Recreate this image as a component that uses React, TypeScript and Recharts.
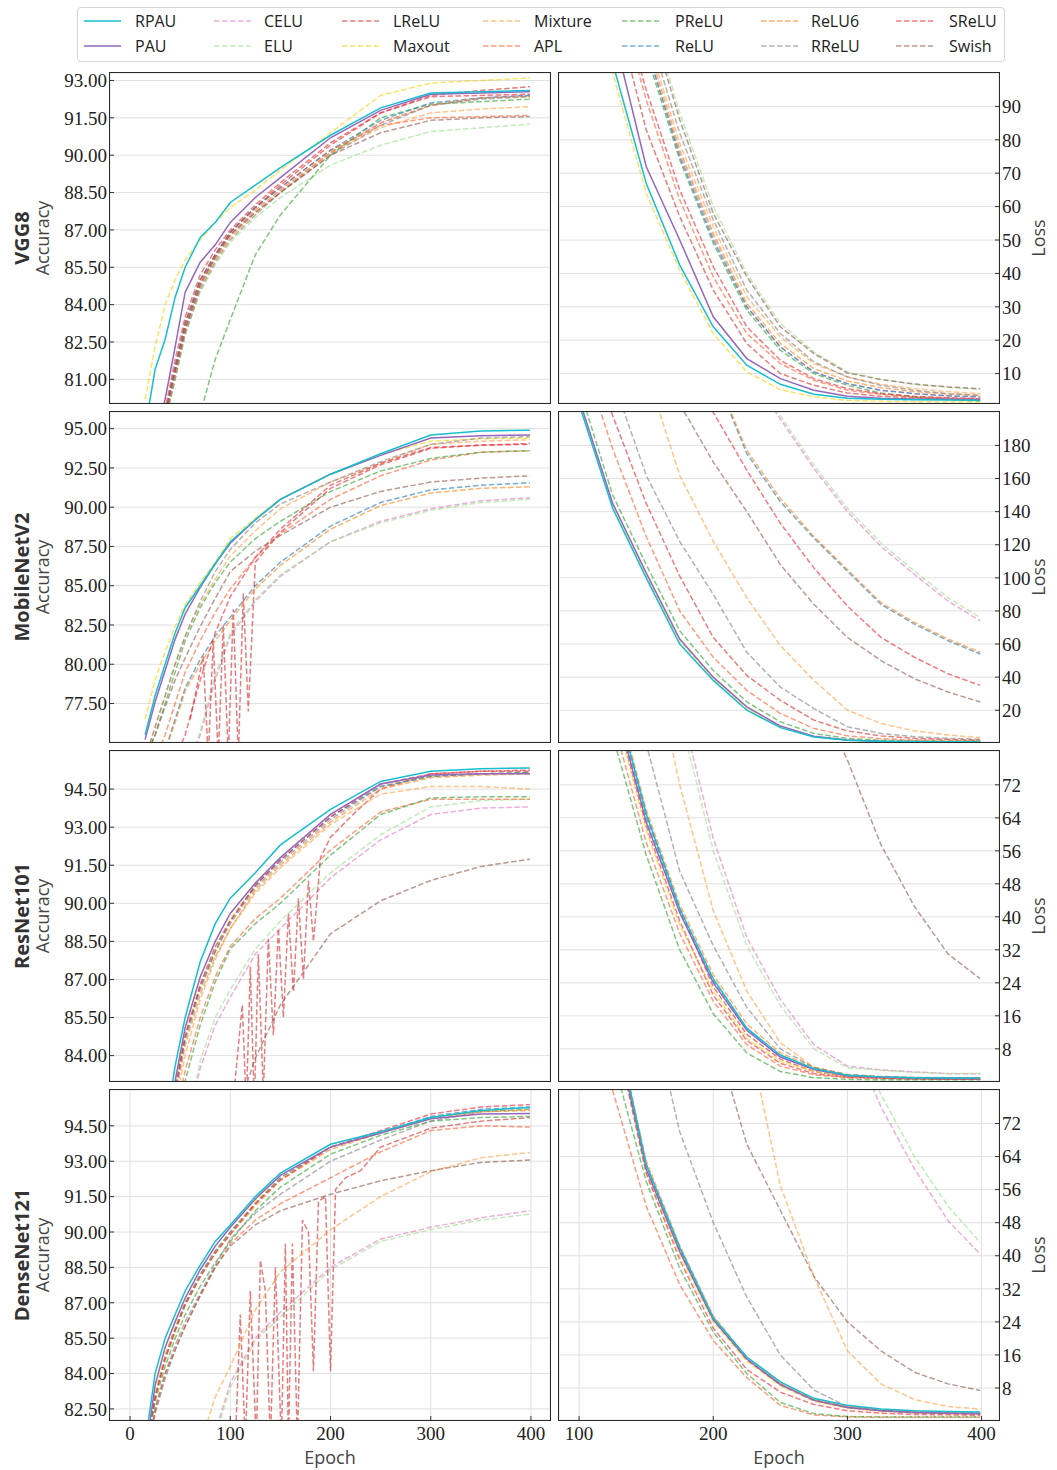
import React from 'react';
import { LineChart, Line, XAxis, YAxis, CartesianGrid } from 'recharts';

// ---- series & epochs ----
const SERIES = ['RPAU', 'PAU', 'CELU', 'ELU', 'LReLU', 'Maxout', 'Mixture', 'APL', 'PReLU', 'ReLU', 'ReLU6', 'RReLU', 'SReLU', 'Swish'];
const ROW_NAMES = ['VGG8', 'MobileNetV2', 'ResNet101', 'DenseNet121'];

const ACC_EPOCHS = [15, 25, 35, 45, 55, 70, 85, 100, 125, 150, 200, 250, 300, 350, 399];
const LOSS_EPOCHS = [100, 125, 150, 175, 200, 225, 250, 275, 300, 325, 350, 375, 399];

// ---- VGG8 ----
const VGG_ACC: Record<string, number[]> = {
  RPAU: [79.0, 81.4, 82.6, 84.3, 85.5, 86.7, 87.3, 88.1, 88.8, 89.5, 90.8, 91.9, 92.5, 92.55, 92.6],
  PAU: [78.0, 78.5, 80.2, 82.3, 84.5, 85.7, 86.4, 87.3, 88.3, 89.1, 90.7, 91.8, 92.45, 92.5, 92.55],
  CELU: [78, 78.5, 79.5, 81.3, 83.0, 84.8, 85.9, 86.8, 87.8, 88.6, 90.1, 91.3, 92.0, 92.3, 92.4],
  ELU: [78, 78.5, 79.3, 81.0, 82.8, 84.5, 85.6, 86.5, 87.5, 88.3, 89.6, 90.4, 90.95, 91.1, 91.25],
  LReLU: [78, 78.5, 79.5, 81.5, 83.3, 85.0, 86.0, 86.9, 87.9, 88.8, 90.4, 91.7, 92.4, 92.6, 92.75],
  Maxout: [80.2, 82.3, 84.0, 85.0, 85.8, 86.6, 87.3, 87.9, 88.6, 89.4, 90.9, 92.4, 92.9, 93.0, 93.1],
  Mixture: [78, 78.5, 79.5, 81.2, 83.0, 84.8, 85.9, 86.8, 87.8, 88.6, 90.1, 91.1, 91.7, 91.85, 91.95],
  APL: [78, 78.5, 79.6, 81.4, 83.1, 84.9, 86.0, 86.9, 87.9, 88.7, 90.2, 91.2, 91.5, 91.55, 91.6],
  PReLU: [76, 76.5, 77, 77.5, 78.5, 79.6, 81.8, 83.4, 86.0, 87.6, 90.0, 91.5, 92.05, 92.15, 92.25],
  ReLU: [78, 78.5, 79.6, 81.5, 83.2, 85.0, 86.0, 86.9, 87.9, 88.7, 90.2, 91.4, 92.1, 92.3, 92.4],
  ReLU6: [78, 78.5, 79.4, 81.2, 83.0, 84.7, 85.8, 86.7, 87.7, 88.5, 90.1, 91.3, 92.0, 92.3, 92.35],
  RReLU: [78, 78.5, 79.3, 81.0, 82.8, 84.6, 85.7, 86.6, 87.6, 88.5, 90.0, 91.2, 92.0, 92.25, 92.35],
  SReLU: [78, 78.5, 79.8, 81.8, 83.5, 85.2, 86.2, 87.0, 88.0, 88.9, 90.5, 91.7, 92.35, 92.4, 92.45],
  Swish: [78, 78.5, 79.5, 81.3, 83.0, 84.8, 85.9, 86.8, 87.7, 88.5, 90.0, 90.9, 91.4, 91.5, 91.55],
};
const VGG_LOSS: Record<string, number[]> = {
  RPAU: [150, 103, 67, 42.5, 24, 12.5, 6.8, 3.8, 2.6, 2.3, 2.2, 2.1, 2.0],
  PAU: [160, 113, 72, 50, 27, 14.5, 8.5, 5, 3.2, 2.6, 2.4, 2.3, 2.2],
  CELU: [200, 150, 108, 76, 51, 30, 18, 10.5, 7, 5, 4, 3.4, 3.0],
  ELU: [220, 165, 122, 88, 60, 40, 25, 16.5, 10.5, 8.3, 6.8, 5.9, 5.3],
  LReLU: [170, 122, 83, 57, 35, 19, 10, 6.5, 4.2, 3.2, 2.8, 2.5, 2.3],
  Maxout: [148, 100, 64, 41, 22, 10.5, 5.2, 3.0, 2.0, 1.7, 1.6, 1.5, 1.5],
  Mixture: [210, 155, 112, 79, 54, 33, 21, 13, 9, 6.8, 5.5, 4.6, 4.0],
  APL: [178, 128, 92, 62, 39, 22, 13, 8, 5, 3.8, 3.0, 2.6, 2.3],
  PReLU: [200, 148, 106, 74, 49, 29, 17, 10, 6.5, 4.2, 3, 2.2, 1.8],
  ReLU: [200, 150, 108, 75, 50, 30, 18, 10.5, 7, 5, 4, 3.3, 3.0],
  ReLU6: [205, 152, 110, 77, 52, 31, 19, 11.5, 7.8, 5.8, 4.6, 3.9, 3.5],
  RReLU: [210, 158, 115, 82, 56, 35, 22, 13.5, 9, 6.5, 5, 4, 3.5],
  SReLU: [180, 130, 95, 65, 42, 24, 14, 8.5, 5.5, 4.0, 3.2, 2.8, 2.5],
  Swish: [215, 162, 120, 86, 58, 39, 24, 16, 10.2, 8.2, 6.9, 6, 5.5],
};

// ---- MobileNetV2 ----
const MOB_ACC: Record<string, number[]> = {
  RPAU: [75.5, 78.0, 80.0, 82.0, 83.6, 85.0, 86.4, 87.8, 89.2, 90.5, 92.1, 93.4, 94.6, 94.85, 94.9],
  PAU: [75.2, 77.6, 79.6, 81.6, 83.2, 84.9, 86.4, 87.7, 89.2, 90.5, 92.1, 93.3, 94.4, 94.55, 94.6],
  CELU: [70, 70, 71, 72, 73, 75.5, 79.0, 81.8, 84.0, 85.6, 87.8, 89.1, 89.9, 90.4, 90.6],
  ELU: [70, 70, 71, 72, 73, 75.7, 79.3, 82.0, 84.1, 85.7, 87.8, 89.0, 89.8, 90.3, 90.5],
  LReLU: [72, 72, 73, 74, 75.5, 78.5, 81.5, 84.0, 86.5, 88.4, 91.2, 92.7, 93.75, 93.95, 94.05],
  Maxout: [76.5, 79.0, 80.8, 82.4, 83.8, 85.2, 86.5, 88.0, 89.3, 90.5, 92.1, 93.35, 94.2, 94.35, 94.4],
  Mixture: [74, 76, 78, 80, 81.8, 83.8, 85.4, 86.9, 88.5, 89.9, 91.6, 92.8, 94.0, 94.2, 94.3],
  APL: [72, 74, 75.5, 77.5, 79.5, 81.5, 83.3, 84.8, 86.8, 88.3, 90.5, 92.0, 93.0, 93.5, 93.6],
  PReLU: [74, 75.5, 77.5, 79.5, 81.5, 83.6, 85.2, 86.5, 88.0, 89.1, 91.0, 92.3, 93.1, 93.5, 93.6],
  ReLU: [72, 73, 74.5, 76.5, 78.5, 80.3, 81.8, 83.0, 85.0, 86.5, 88.8, 90.3, 91.1, 91.4, 91.55],
  ReLU6: [72, 73, 74.5, 76.3, 78.3, 80.0, 81.5, 82.8, 84.8, 86.3, 88.6, 90.1, 90.9, 91.2, 91.3],
  RReLU: [74, 76, 78, 80, 81.8, 84.0, 85.9, 87.3, 89.0, 90.2, 91.6, 92.9, 94.0, 94.4, 94.5],
  SReLU: [72, 72, 73, 74, 75.5, 79.0, 82.0, 84.3, 86.8, 88.6, 91.4, 92.8, 93.8, 93.95, 94.0],
  Swish: [74, 75.5, 77.3, 79.0, 80.4, 82.4, 84.2, 85.9, 87.2, 88.2, 90.0, 91.0, 91.6, 91.85, 92.0],
};
const MOB_LRELU_EPOCHS = [60, 73, 78, 83, 88, 93, 98, 103, 108, 113, 118, 125, 150, 200, 250, 300, 350, 399];
const MOB_LRELU_ACC = [76.5, 80.5, 74, 81.5, 74, 82.5, 74, 83.5, 74, 84.5, 77, 86.5, 88.4, 91.2, 92.7, 93.75, 93.95, 94.05];
const MOB_LOSS: Record<string, number[]> = {
  RPAU: [205, 142, 100, 60, 38, 20, 9.5, 3.8, 1.8, 1.2, 1.0, 0.9, 0.9],
  PAU: [208, 145, 103, 63, 40, 22, 10.5, 4.3, 2, 1.3, 1.1, 1.0, 1.0],
  CELU: [450, 400, 350, 300, 260, 225, 196, 166, 140, 119, 102, 86, 74],
  ELU: [450, 400, 350, 300, 262, 226, 198, 168, 142, 121, 104, 88, 76],
  LReLU: [260, 198, 145, 101, 64, 41, 26, 14, 7.5, 4.5, 3, 2.4, 2.0],
  Maxout: [206, 143, 101, 62, 39, 21, 10, 4, 1.9, 1.3, 1.1, 1.0, 1.0],
  Mixture: [320, 270, 225, 162, 122, 88, 59, 38, 20, 12, 7.5, 5, 3.5],
  APL: [240, 178, 125, 80, 52, 32, 18, 9, 4.5, 2.8, 2.0, 1.7, 1.5],
  PReLU: [215, 150, 108, 68, 44, 25, 13, 6, 3, 1.8, 1.4, 1.2, 1.2],
  ReLU: [380, 340, 300, 260, 225, 175, 146, 124, 104, 84, 72, 62, 54],
  ReLU6: [380, 340, 300, 262, 226, 177, 148, 125, 105, 85, 73, 63, 55],
  RReLU: [280, 220, 162, 122, 90, 55, 34, 21, 10, 6, 4, 3, 2.5],
  SReLU: [350, 310, 270, 235, 200, 165, 133, 106, 83, 64, 52, 42, 35],
  Swish: [320, 280, 240, 205, 170, 140, 108, 84, 64, 50, 39, 31, 25],
};

// ---- ResNet101 ----
const RES_ACC: Record<string, number[]> = {
  RPAU: [80, 80, 81, 83.6, 85.5, 87.7, 89.2, 90.2, 91.2, 92.3, 93.7, 94.8, 95.2, 95.3, 95.33],
  PAU: [80, 80, 80.5, 83.0, 85.1, 87.1, 88.5, 89.6, 90.8, 91.8, 93.5, 94.7, 95.05, 95.1, 95.1],
  CELU: [80, 80, 80, 80, 81, 83.5, 85.2, 86.3, 88.0, 89.0, 91.0, 92.5, 93.5, 93.75, 93.8],
  ELU: [80, 80, 80, 80, 81, 83.8, 85.5, 86.6, 88.2, 89.3, 91.2, 92.7, 93.8, 94.05, 94.1],
  LReLU: [],
  Maxout: [80, 80, 80.5, 82.8, 84.8, 86.8, 88.2, 89.4, 90.7, 91.8, 93.5, 94.7, 95.0, 95.1, 95.15],
  Mixture: [80, 80, 80, 82.0, 84.0, 86.2, 87.8, 89.0, 90.4, 91.4, 93.1, 94.3, 94.6, 94.6, 94.5],
  APL: [80, 80, 80, 81.5, 83.4, 85.5, 87.1, 88.3, 89.4, 90.2, 92.1, 93.6, 94.1, 94.1, 94.1],
  PReLU: [80, 80, 80, 81.2, 83.0, 85.2, 86.9, 88.2, 89.2, 90.0, 91.9, 93.5, 94.15, 94.2, 94.2],
  ReLU: [80, 80, 80.3, 82.6, 84.7, 86.7, 88.1, 89.3, 90.7, 91.7, 93.4, 94.6, 95.0, 95.1, 95.15],
  ReLU6: [80, 80, 80.2, 82.3, 84.4, 86.4, 87.9, 89.0, 90.5, 91.5, 93.2, 94.5, 94.95, 95.05, 95.1],
  RReLU: [80, 80, 80.3, 82.5, 84.6, 86.6, 88.1, 89.2, 90.6, 91.6, 93.3, 94.6, 95.0, 95.1, 95.15],
  SReLU: [80, 80, 80.3, 82.7, 84.8, 86.8, 88.3, 89.3, 90.7, 91.7, 93.4, 94.7, 95.1, 95.2, 95.25],
  Swish: [80, 80, 80, 80, 80, 80, 80, 81, 83.9, 86.0, 88.8, 90.1, 90.9, 91.45, 91.74],
};
const RES_LRELU_EPOCHS = [100, 112, 116, 120, 124, 128, 133, 138, 143, 148, 153, 158, 163, 168, 173, 178, 183, 190, 200, 225, 250, 300, 350, 399];
const RES_LRELU_ACC = [81, 86, 82, 87.5, 82, 88.0, 82.5, 88.6, 84.8, 89.0, 85.5, 89.6, 86.5, 90.2, 87.0, 90.9, 88.5, 91.8, 92.6, 93.6, 94.5, 95.1, 95.2, 95.2];
const RES_LOSS: Record<string, number[]> = {
  RPAU: [130, 96, 65, 42, 25, 13, 6.5, 3.2, 1.6, 1.2, 1.0, 0.9, 0.9],
  PAU: [128, 94, 63, 41, 24, 12.5, 6, 3, 1.5, 1.1, 0.9, 0.8, 0.8],
  CELU: [210, 170, 130, 92, 59, 35, 20, 9, 3.8, 2.9, 2.4, 2.0, 1.9],
  ELU: [208, 168, 128, 89, 56, 33, 18.5, 8, 3.4, 2.8, 2.3, 2.0, 2.0],
  LReLU: [130, 96, 65, 42, 23, 11.5, 5.5, 2.5, 1.3, 1.0, 0.8, 0.7, 0.7],
  Maxout: [125, 92, 61, 38, 22, 10.5, 5, 2.5, 1.3, 1.0, 0.8, 0.7, 0.7],
  Mixture: [180, 145, 110, 72, 41.5, 22, 9.5, 3.5, 1.6, 1.2, 1.0, 0.9, 0.9],
  APL: [122, 88, 58, 36, 19.5, 9, 3.8, 1.7, 1.0, 0.8, 0.7, 0.6, 0.6],
  PReLU: [118, 84, 55, 32, 16.5, 7, 2.5, 1.0, 0.6, 0.5, 0.5, 0.5, 0.5],
  ReLU: [130, 95, 64, 41.5, 24.5, 12.8, 6.2, 3.1, 1.5, 1.1, 0.9, 0.8, 0.8],
  ReLU6: [132, 97, 66, 43, 26, 14, 7, 3.5, 1.7, 1.2, 1.0, 0.9, 0.9],
  RReLU: [150, 115, 82, 51, 33, 18, 8, 3.5, 1.8, 1.3, 1.1, 1.0, 1.0],
  SReLU: [128, 93, 62, 39, 21, 10, 4.5, 2.0, 1.1, 0.9, 0.7, 0.6, 0.6],
  Swish: [300, 260, 220, 180, 150, 125, 110, 95, 78, 57.5, 42.5, 31, 25],
};

// ---- DenseNet121 ----
const DEN_ACC: Record<string, number[]> = {
  RPAU: [81, 84.0, 85.5, 86.5, 87.5, 88.6, 89.6, 90.3, 91.5, 92.5, 93.72, 94.25, 94.85, 95.15, 95.28],
  PAU: [80.5, 83.5, 85.1, 86.2, 87.2, 88.4, 89.4, 90.2, 91.4, 92.4, 93.6, 94.2, 94.8, 95.0, 95.02],
  CELU: [78, 78, 78, 78, 78, 79, 81.5, 83.6, 85.5, 86.6, 88.5, 89.7, 90.2, 90.6, 90.9],
  ELU: [78, 78, 78, 78, 78, 79, 81.3, 83.4, 85.4, 86.4, 88.4, 89.6, 90.1, 90.5, 90.76],
  LReLU: [],
  Maxout: [80.5, 83.2, 84.8, 86.0, 87.0, 88.2, 89.2, 90.0, 91.3, 92.3, 93.6, 94.2, 94.85, 95.1, 95.2],
  Mixture: [78, 78, 78, 78, 78, 81, 83.0, 84.3, 86.7, 88.3, 90.1, 91.5, 92.55, 93.15, 93.37],
  APL: [80, 82.5, 84.0, 85.0, 86.0, 87.3, 88.5, 89.5, 90.5, 91.2, 92.3, 93.4, 94.3, 94.5, 94.45],
  PReLU: [80.5, 82.8, 84.3, 85.5, 86.5, 87.7, 88.7, 89.6, 90.9, 91.9, 93.3, 94.1, 94.7, 94.85, 94.9],
  ReLU: [80.5, 83.0, 84.7, 85.9, 87.0, 88.2, 89.2, 90.0, 91.2, 92.3, 93.6, 94.2, 94.9, 95.2, 95.3],
  ReLU6: [80.5, 83.0, 84.6, 85.8, 86.9, 88.1, 89.1, 89.9, 91.1, 92.2, 93.5, 94.2, 94.8, 95.1, 95.15],
  RReLU: [80, 82.5, 84.0, 85.2, 86.2, 87.4, 88.6, 89.7, 90.8, 91.6, 93.0, 93.9, 94.7, 95.1, 95.2],
  SReLU: [80.5, 83.0, 84.6, 85.8, 86.9, 88.1, 89.1, 89.9, 91.2, 92.2, 93.6, 94.3, 95.0, 95.3, 95.4],
  Swish: [80, 82.3, 83.8, 85.0, 86.0, 87.3, 88.5, 89.4, 90.3, 90.9, 91.6, 92.17, 92.6, 92.95, 93.05],
};
const DEN_LRELU_EPOCHS = [100, 105, 110, 115, 120, 126, 130, 135, 140, 145, 151, 155, 158, 162, 167, 172, 178, 183, 188, 195, 200, 205, 215, 230, 250, 275, 300, 350, 399];
const DEN_LRELU_ACC = [80, 81, 86.5, 81, 87.5, 81, 88.8, 87.5, 81, 88.5, 81, 89.5, 81, 89.5, 81, 90.5, 90.0, 84.1, 91.3, 91.5, 84.1, 91.8, 92.3, 92.6, 93.6, 94.0, 94.4, 94.7, 94.85];
const DEN_LOSS: Record<string, number[]> = {
  RPAU: [135, 100, 62, 42, 25, 15.5, 9.5, 5.5, 3.8, 2.9, 2.5, 2.3, 2.2],
  PAU: [133, 98, 61, 41, 24.5, 15, 8.8, 5, 3.3, 2.5, 2.1, 1.9, 1.8],
  CELU: [320, 290, 260, 230, 200, 170, 145, 120, 95, 76, 61, 48.5, 40.4],
  ELU: [325, 295, 265, 235, 205, 175, 150, 125, 97, 79, 64, 52, 43.2],
  LReLU: [134, 99, 62, 41.5, 24.5, 14.8, 8.8, 5, 3.3, 2.5, 2.1, 1.9, 1.8],
  Maxout: [132, 97, 60, 40, 24, 14.5, 8.5, 4.8, 3.1, 2.3, 2.0, 1.8, 1.7],
  Mixture: [240, 210, 180, 155, 130, 95, 57, 35, 17, 9, 5.2, 3.5, 2.9],
  APL: [110, 80, 52, 33, 19.5, 10.5, 3.8, 1.5, 1.0, 0.9, 0.9, 0.9, 0.9],
  PReLU: [118, 88, 58, 37, 21.5, 11.5, 4.5, 1.8, 1.1, 1.0, 1.0, 1.0, 1.0],
  ReLU: [134, 99, 62, 42, 25, 15, 9, 5.2, 3.4, 2.6, 2.2, 2.0, 1.9],
  ReLU6: [135, 100, 63, 42.5, 25.5, 15.5, 9.2, 5.3, 3.5, 2.7, 2.3, 2.1, 2.0],
  RReLU: [180, 150, 105, 70, 48, 30, 16, 7.5, 3.5, 2.5, 2.0, 1.8, 1.7],
  SReLU: [132, 97, 60, 39, 22.5, 12.5, 7, 4, 2.5, 1.9, 1.6, 1.5, 1.4],
  Swish: [200, 170, 140, 118, 95, 67, 51, 35, 24, 17, 11.8, 9, 7.4],
};

// ---- axis ticks ----
const VGG_ACC_TICKS = [81, 82.5, 84, 85.5, 87, 88.5, 90, 91.5, 93];
const VGG_LOSS_TICKS = [10, 20, 30, 40, 50, 60, 70, 80, 90];
const MOB_ACC_TICKS = [77.5, 80, 82.5, 85, 87.5, 90, 92.5, 95];
const MOB_LOSS_TICKS = [20, 40, 60, 80, 100, 120, 140, 160, 180];
const RES_ACC_TICKS = [84, 85.5, 87, 88.5, 90, 91.5, 93, 94.5];
const DEN_ACC_TICKS = [82.5, 84, 85.5, 87, 88.5, 90, 91.5, 93, 94.5];
const RES_LOSS_TICKS = [8, 16, 24, 32, 40, 48, 56, 64, 72];
const LEFT_X_TICKS = [0, 100, 200, 300, 400];
const RIGHT_X_TICKS = [100, 200, 300, 400];

// ---- styling ----
const STYLE: Record<string, { color: string; dashed: boolean }> = {
  RPAU: { color: '#17becf', dashed: false },
  PAU: { color: '#9467bd', dashed: false },
  CELU: { color: '#e377c2', dashed: true },
  ELU: { color: '#98df8a', dashed: true },
  LReLU: { color: '#d62728', dashed: true },
  Maxout: { color: '#f5d000', dashed: true },
  Mixture: { color: '#ff9f40', dashed: true },
  APL: { color: '#ff5a2a', dashed: true },
  PReLU: { color: '#2ca02c', dashed: true },
  ReLU: { color: '#1f77b4', dashed: true },
  ReLU6: { color: '#ff7f0e', dashed: true },
  RReLU: { color: '#7f7f7f', dashed: true },
  SReLU: { color: '#ee2233', dashed: true },
  Swish: { color: '#8c564b', dashed: true },
};
const DASH = '5.5 2.5';
const SERIF = '"Liberation Serif", "DejaVu Serif", serif';
const SANS = '"Open Sans", "DejaVu Sans", sans-serif';

const PLOT_W = 440;
const PLOT_H = 330;
const ROW_TOP = [73, 412, 751, 1090];
const LEFT_PLOT_X = 110;
const RIGHT_PLOT_X = 559;
const Y_AXIS_W = 62;
const X_AXIS_H = 34;

const pts = (epochs: number[], values: number[]) => epochs.map((epoch, i) => ({ epoch, v: values[i] }));

type PanelDef = {
  row: number;
  side: 'left' | 'right';
  values: Record<string, number[]>;
  epochs: number[];
  yDomain: [number, number];
  yTicks: number[];
  decimals: number;
  override?: { name: string; epochs: number[]; values: number[] };
};

const PANELS: PanelDef[] = [
  { row: 0, side: 'left', values: VGG_ACC, epochs: ACC_EPOCHS, yDomain: [80.05, 93.3], yTicks: VGG_ACC_TICKS, decimals: 2 },
  { row: 0, side: 'right', values: VGG_LOSS, epochs: LOSS_EPOCHS, yDomain: [1.2, 100], yTicks: VGG_LOSS_TICKS, decimals: 0 },
  { row: 1, side: 'left', values: MOB_ACC, epochs: ACC_EPOCHS, yDomain: [75.05, 96.06], yTicks: MOB_ACC_TICKS, decimals: 2,
    override: { name: 'LReLU', epochs: MOB_LRELU_EPOCHS, values: MOB_LRELU_ACC } },
  { row: 1, side: 'right', values: MOB_LOSS, epochs: LOSS_EPOCHS, yDomain: [0.8, 200.2], yTicks: MOB_LOSS_TICKS, decimals: 0 },
  { row: 2, side: 'left', values: RES_ACC, epochs: ACC_EPOCHS, yDomain: [83.0, 96.0], yTicks: RES_ACC_TICKS, decimals: 2,
    override: { name: 'LReLU', epochs: RES_LRELU_EPOCHS, values: RES_LRELU_ACC } },
  { row: 2, side: 'right', values: RES_LOSS, epochs: LOSS_EPOCHS, yDomain: [0.2, 80.2], yTicks: RES_LOSS_TICKS, decimals: 0 },
  { row: 3, side: 'left', values: DEN_ACC, epochs: ACC_EPOCHS, yDomain: [82.03, 96.02], yTicks: DEN_ACC_TICKS, decimals: 2,
    override: { name: 'LReLU', epochs: DEN_LRELU_EPOCHS, values: DEN_LRELU_ACC } },
  { row: 3, side: 'right', values: DEN_LOSS, epochs: LOSS_EPOCHS, yDomain: [0.26, 80.1], yTicks: RES_LOSS_TICKS, decimals: 0 },
];

// dashed first, solid lines on top
const DRAW_ORDER = [...SERIES.filter((s) => STYLE[s].dashed), 'PAU', 'RPAU'];

const CSS = `
.recharts-surface { overflow: visible; }
.recharts-cartesian-axis-tick-value, .recharts-cartesian-axis-tick-value tspan { font-family: ${SERIF}; }
`;

function Panel({ def }: { def: PanelDef }) {
  const isLeft = def.side === 'left';
  const isBottom = def.row === 3;
  const chartW = PLOT_W + Y_AXIS_W;
  const chartH = PLOT_H + X_AXIS_H;
  const left = isLeft ? LEFT_PLOT_X - Y_AXIS_W : RIGHT_PLOT_X;
  const top = ROW_TOP[def.row];
  const tickStyle = { fontSize: 19, fill: '#222', fontFamily: SERIF };

  return (
    <div style={{ position: 'absolute', left, top, width: chartW, height: chartH, fontFamily: SERIF }}>
      <LineChart width={chartW} height={chartH} margin={{ top: 0, right: 0, bottom: 0, left: 0 }}>
        <CartesianGrid stroke="#e0e0e0" strokeWidth={1} />
        <XAxis
          dataKey="epoch"
          type="number"
          domain={isLeft ? [-20, 419] : [85, 413]}
          ticks={isLeft ? LEFT_X_TICKS : RIGHT_X_TICKS}
          allowDataOverflow
          height={X_AXIS_H}
          axisLine={false}
          tickLine={{ stroke: '#333' }}
          tickSize={-4}
          tickMargin={11}
          interval={0}
          tick={isBottom ? tickStyle : false}
        />
        <YAxis
          type="number"
          orientation={def.side}
          domain={def.yDomain}
          ticks={def.yTicks}
          allowDataOverflow
          width={Y_AXIS_W}
          axisLine={false}
          tickLine={{ stroke: '#333' }}
          tickSize={-4}
          tickMargin={7}
          interval={0}
          tick={tickStyle}
          tickFormatter={(v: number) => v.toFixed(def.decimals)}
        />
        {DRAW_ORDER.map((name) => {
          const st = STYLE[name];
          const data =
            def.override && def.override.name === name
              ? pts(def.override.epochs, def.override.values)
              : pts(def.epochs, def.values[name]);
          return (
            <Line
              key={name}
              data={data}
              dataKey="v"
              name={name}
              type="linear"
              stroke={st.color}
              strokeWidth={1.5}
              strokeOpacity={st.dashed ? 0.6 : 1}
              strokeDasharray={st.dashed ? DASH : undefined}
              dot={false}
              activeDot={false}
              isAnimationActive={false}
            />
          );
        })}
      </LineChart>
      <div
        style={{
          position: 'absolute',
          left: isLeft ? Y_AXIS_W - 1 : -1,
          top: -1,
          width: PLOT_W + 2,
          height: PLOT_H + 2,
          border: '1.3px solid #2a2a2a',
          boxSizing: 'border-box',
          pointerEvents: 'none',
        }}
      />
    </div>
  );
}

const LEGEND_COLS = [
  { line: 84, text: 135 },
  { line: 214, text: 264 },
  { line: 342, text: 393 },
  { line: 483, text: 534 },
  { line: 622, text: 675 },
  { line: 761, text: 811 },
  { line: 896, text: 949 },
];
const LEGEND_ROWS = [21, 46];

function Legend() {
  return (
    <>
      <div
        style={{
          position: 'absolute',
          left: 77,
          top: 7,
          width: 928,
          height: 55,
          border: '1px solid #d4d4d4',
          borderRadius: 4,
          boxSizing: 'border-box',
        }}
      />
      {SERIES.map((name, i) => {
        const col = LEGEND_COLS[Math.floor(i / 2)];
        const y = LEGEND_ROWS[i % 2];
        const st = STYLE[name];
        return (
          <React.Fragment key={name}>
            <svg style={{ position: 'absolute', left: col.line, top: y - 3 }} width={38} height={6}>
              <line
                x1={0}
                y1={3}
                x2={37}
                y2={3}
                stroke={st.color}
                strokeWidth={1.5}
                strokeOpacity={st.dashed ? 0.6 : 1}
                strokeDasharray={st.dashed ? DASH : undefined}
              />
            </svg>
            <div
              style={{
                position: 'absolute',
                left: col.text,
                top: y - 12,
                height: 24,
                lineHeight: '24px',
                fontFamily: SANS,
                fontSize: 16,
                color: '#222',
                whiteSpace: 'nowrap',
              }}
            >
              {name}
            </div>
          </React.Fragment>
        );
      })}
    </>
  );
}

function Labels() {
  return (
    <svg style={{ position: 'absolute', left: 0, top: 0 }} width={1057} height={1470}>
      {ROW_NAMES.map((name, r) => {
        const cy = ROW_TOP[r] + PLOT_H / 2;
        return (
          <g key={name}>
            <text
              transform={`translate(21, ${cy}) rotate(-90)`}
              textAnchor="middle"
              dominantBaseline="central"
              fontFamily={SANS}
              fontWeight={700}
              fontSize={20}
              fill="#333"
            >
              {name}
            </text>
            <text
              transform={`translate(42, ${cy}) rotate(-90)`}
              textAnchor="middle"
              dominantBaseline="central"
              fontFamily={SANS}
              fontSize={18}
              fill="#444"
            >
              Accuracy
            </text>
            <text
              transform={`translate(1038, ${cy}) rotate(-90)`}
              textAnchor="middle"
              dominantBaseline="central"
              fontFamily={SANS}
              fontSize={18}
              fill="#444"
            >
              Loss
            </text>
          </g>
        );
      })}
      <text x={LEFT_PLOT_X + PLOT_W / 2} y={1457} textAnchor="middle" dominantBaseline="central" fontFamily={SANS} fontSize={18} fill="#444">
        Epoch
      </text>
      <text x={RIGHT_PLOT_X + PLOT_W / 2} y={1457} textAnchor="middle" dominantBaseline="central" fontFamily={SANS} fontSize={18} fill="#444">
        Epoch
      </text>
    </svg>
  );
}

export default function App() {
  return (
    <div style={{ position: 'absolute', left: 0, top: 0, width: 1057, height: 1470, background: '#fff', overflow: 'hidden' }}>
      <style>{CSS}</style>
      <Labels />
      <Legend />
      {PANELS.map((p, i) => (
        <Panel key={i} def={p} />
      ))}
    </div>
  );
}
